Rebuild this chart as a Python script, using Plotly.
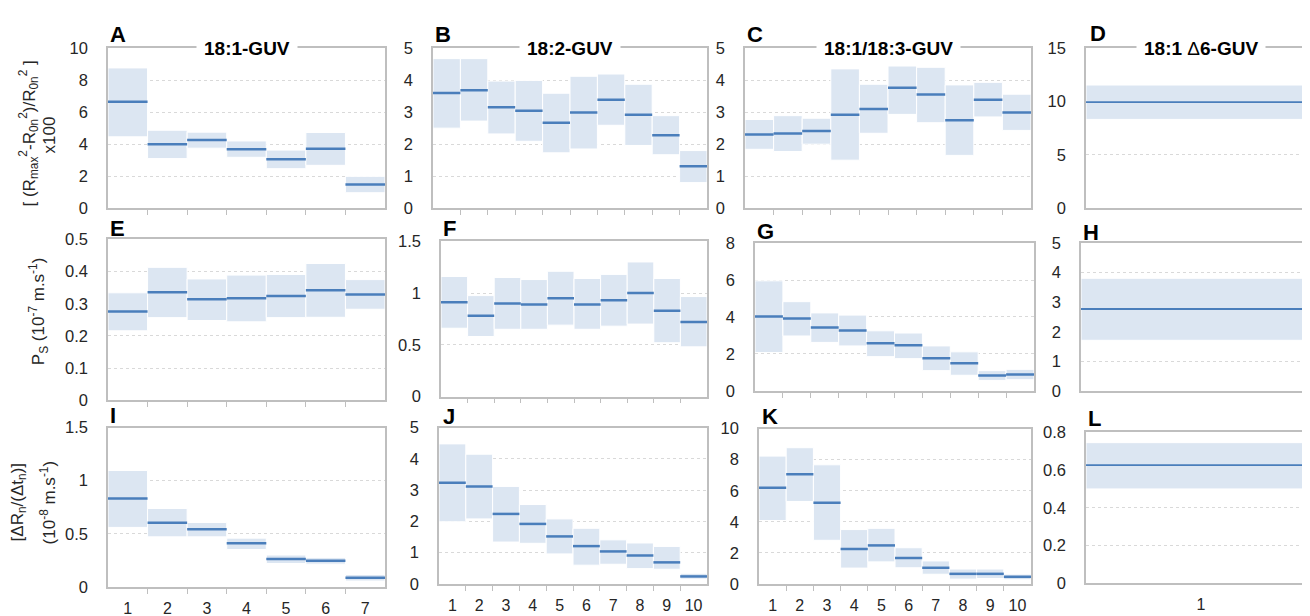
import plotly.graph_objects as go

W, H = 1310, 616

# ---------------- data ----------------
A_mean = [6.65, 4.00, 4.26, 3.69, 3.06, 3.71, 1.48]
A_low = [4.46, 3.10, 3.75, 3.18, 2.47, 2.68, 0.97]
A_high = [8.76, 4.87, 4.75, 4.20, 3.63, 4.73, 1.99]

B_mean = [3.60, 3.68, 3.15, 3.04, 2.67, 2.99, 3.39, 2.92, 2.28, 1.31]
B_low = [2.50, 2.72, 2.32, 2.09, 1.73, 1.85, 2.59, 1.96, 1.67, 0.80]
B_high = [4.67, 4.67, 3.97, 3.99, 3.59, 4.12, 4.19, 3.87, 2.89, 1.80]

C_mean = [2.30, 2.33, 2.41, 2.92, 3.10, 3.76, 3.55, 2.75, 3.39, 2.99]
C_low = [1.84, 1.77, 2.00, 1.50, 2.34, 2.93, 2.67, 1.65, 2.85, 2.43]
C_high = [2.77, 2.89, 2.81, 4.35, 3.87, 4.55, 4.40, 3.85, 3.93, 3.56]

D_mean = [9.93]
D_low = [8.32]
D_high = [11.54]

E_mean = [0.276, 0.336, 0.314, 0.317, 0.324, 0.342, 0.329]
E_low = [0.216, 0.257, 0.248, 0.244, 0.257, 0.258, 0.283]
E_high = [0.334, 0.413, 0.377, 0.389, 0.391, 0.425, 0.375]

F_mean = [0.91, 0.78, 0.90, 0.89, 0.95, 0.89, 0.93, 1.00, 0.83, 0.72]
F_low = [0.66, 0.58, 0.65, 0.65, 0.69, 0.65, 0.68, 0.70, 0.52, 0.48]
F_high = [1.16, 0.975, 1.15, 1.13, 1.21, 1.14, 1.18, 1.30, 1.14, 0.966]

G_mean = [4.02, 3.92, 3.43, 3.27, 2.57, 2.46, 1.76, 1.49, 0.83, 0.88]
G_low = [2.07, 2.97, 2.62, 2.43, 1.85, 1.74, 1.09, 0.84, 0.56, 0.60]
G_high = [5.96, 4.83, 4.22, 4.10, 3.25, 3.13, 2.43, 2.11, 1.09, 1.16]

H_mean = [2.77]
H_low = [1.71]
H_high = [3.81]

I_mean = [0.833, 0.603, 0.542, 0.410, 0.263, 0.245, 0.086]
I_low = [0.560, 0.471, 0.471, 0.352, 0.220, 0.214, 0.055]
I_high = [1.096, 0.738, 0.606, 0.459, 0.300, 0.275, 0.116]

J_mean = [3.24, 3.12, 2.24, 1.92, 1.52, 1.21, 1.04, 0.91, 0.69, 0.24]
J_low = [1.99, 2.08, 1.34, 1.30, 0.96, 0.60, 0.63, 0.49, 0.47, 0.155]
J_high = [4.48, 4.15, 3.12, 2.54, 2.08, 1.78, 1.41, 1.31, 1.20, 0.34]

K_mean = [6.19, 7.06, 5.23, 2.25, 2.48, 1.67, 1.04, 0.65, 0.65, 0.46]
K_low = [4.08, 5.31, 2.81, 1.02, 1.42, 1.04, 0.625, 0.31, 0.35, 0.27]
K_high = [8.23, 8.77, 7.67, 3.50, 3.58, 2.33, 1.48, 0.96, 0.96, 0.63]

L_mean = [0.627]
L_low = [0.50]
L_high = [0.746]

titles = {"A": "<b>18:1-GUV</b>", "B": "<b>18:2-GUV</b>", "C": "<b>18:1/18:3-GUV</b>",
          "D": "<b>18:1 </b>\u0394<b>6-GUV</b>"}
yrange = {"A": 10, "B": 5, "C": 5, "D": 15, "E": 0.5, "F": 1.5, "G": 8, "H": 5,
          "I": 1.5, "J": 5, "K": 10, "L": 0.8}
ydtick = {"A": 2, "B": 1, "C": 1, "D": 5, "E": 0.1, "F": 0.5, "G": 2, "H": 1,
          "I": 0.5, "J": 1, "K": 2, "L": 0.2}

data = {
    "A": (A_mean, A_low, A_high), "B": (B_mean, B_low, B_high),
    "C": (C_mean, C_low, C_high), "D": (D_mean, D_low, D_high),
    "E": (E_mean, E_low, E_high), "F": (F_mean, F_low, F_high),
    "G": (G_mean, G_low, G_high), "H": (H_mean, H_low, H_high),
    "I": (I_mean, I_low, I_high), "J": (J_mean, J_low, J_high),
    "K": (K_mean, K_low, K_high), "L": (L_mean, L_low, L_high),
}

# ---------------- layout geometry (pixels: left, right, top, bottom) ----------------
boxes = {
    "A": (100, 377, 32, 197), "B": (425, 699, 32, 197), "C": (737, 1023, 32, 197), "D": (1078, 1308, 32, 197),
    "E": (100, 377, 229, 395), "F": (433, 699, 231, 391), "G": (747, 1026, 233, 385), "H": (1073, 1308, 233, 385),
    "I": (100, 377, 423, 587), "J": (431, 699, 423, 584), "K": (751, 1023, 424, 584), "L": (1078, 1308, 428, 583),
}
letter_pos = {
    "A": (100, 18), "B": (425, 18), "C": (737, 18), "D": (1080, 17),
    "E": (100, 218), "F": (433, 218), "G": (747, 221), "H": (1073, 222),
    "I": (100, 411), "J": (433, 412), "K": (752, 412), "L": (1078, 414),
}
bottom_row = {"I", "J", "K", "L"}

BAND = "#dce6f2"
LINE = "#4a7ebb"
BORDER = "#bfbfbf"
GRID = "#d9d9d9"
TXT = "#262626"
FONT = "Liberation Sans, Arial, sans-serif"

fig = go.Figure()
annotations = []

for i, key in enumerate("ABCDEFGHIJKL", start=1):
    mean, low, high = data[key]
    n = len(mean)
    xs = list(range(1, n + 1))
    xa = "x" if i == 1 else f"x{i}"
    ya = "y" if i == 1 else f"y{i}"
    fig.add_trace(go.Bar(
        x=xs, base=low, y=[h - l for h, l in zip(high, low)], width=1,
        marker=dict(color=BAND, line=dict(color="white", width=1)),
        xaxis=xa, yaxis=ya, showlegend=False, hoverinfo="skip"))
    lx, ly = [], []
    for x, m in zip(xs, mean):
        lx += [x - 0.5, x + 0.5, None]
        ly += [m, m, None]
    fig.add_trace(go.Scatter(
        x=lx, y=ly, mode="lines", line=dict(color=LINE, width=2.5 if n > 1 else 1.8),
        xaxis=xa, yaxis=ya, showlegend=False, hoverinfo="skip"))

    l, r, t, b = boxes[key]
    xdom = [l / W, r / W]
    ydom = [1 - b / H, 1 - t / H]
    xname = "xaxis" if i == 1 else f"xaxis{i}"
    yname = "yaxis" if i == 1 else f"yaxis{i}"
    bounds = [k + 0.5 for k in range(1, n)]
    fig.layout[xname] = dict(
        domain=xdom, anchor=ya, range=[0.5, n + 0.5],
        tickmode="array", tickvals=xs, ticks="", ticklabelstandoff=6,
        showticklabels=key in bottom_row,
        tickfont=dict(size=16, color=TXT, family=FONT),
        showline=True, mirror=True, linecolor=BORDER, linewidth=1.5,
        showgrid=False, zeroline=False, fixedrange=True,
        minor=dict(tickmode="array", tickvals=bounds, ticks="outside" if n > 1 else "",
                   ticklen=5, tickcolor=BORDER, tickwidth=1, showgrid=False),
    )
    fig.layout[yname] = dict(
        domain=ydom, anchor=xa, range=[0, yrange[key]], dtick=ydtick[key], tick0=0,
        ticks="", ticklabelstandoff=15,
        tickfont=dict(size=16.5, color=TXT, family=FONT),
        showline=True, mirror=True, linecolor=BORDER, linewidth=1.5,
        showgrid=True, gridcolor=GRID, griddash="dot", gridwidth=1,
        zeroline=False, fixedrange=True,
    )
    # panel letter
    px, py = letter_pos[key]
    annotations.append(dict(
        text=f"<b>{key}</b>", x=px / W, y=1 - py / H, xref="paper", yref="paper",
        xanchor="left", yanchor="middle", showarrow=False,
        font=dict(size=22, color="black", family=FONT)))
    if key in titles:
        annotations.append(dict(
            text=titles[key], x=(l + r) / 2 / W, y=1 - t / H,
            xref="paper", yref="paper", xanchor="center", yanchor="middle",
            showarrow=False, bgcolor="white", borderpad=7,
            font=dict(size=19, color="black", family=FONT)))

# y-axis titles (one annotation per line)
ytitles = [
    ("[ (R<sub>max</sub><sup>2</sup>-R<sub>0n</sub><sup>2</sup>)/R<sub>0n</sub><sup>2</sup> ]", 21, 120),
    ("x100", 41, 122),
    ("P<sub>S</sub> (10<sup>-7</sup> m.s<sup>-1</sup>)", 30, 303),
    ("[\u0394R<sub>n</sub>/(\u0394t<sub>n</sub>)]", 11, 500),
    ("(10<sup>-8</sup> m.s<sup>-1</sup>)", 40, 500),
]
for txt, px, py in ytitles:
    annotations.append(dict(
        text=txt, x=px / W, y=1 - py / H, xref="paper", yref="paper",
        xanchor="center", yanchor="middle", textangle=-90, showarrow=False,
        font=dict(size=17, color=TXT, family=FONT)))

fig.update_layout(
    width=W, height=H, margin=dict(l=0, r=0, t=0, b=0),
    paper_bgcolor="white", plot_bgcolor="white",
    annotations=annotations, barmode="overlay",
    font=dict(family=FONT, color=TXT),
)

fig.write_html("out.html")
